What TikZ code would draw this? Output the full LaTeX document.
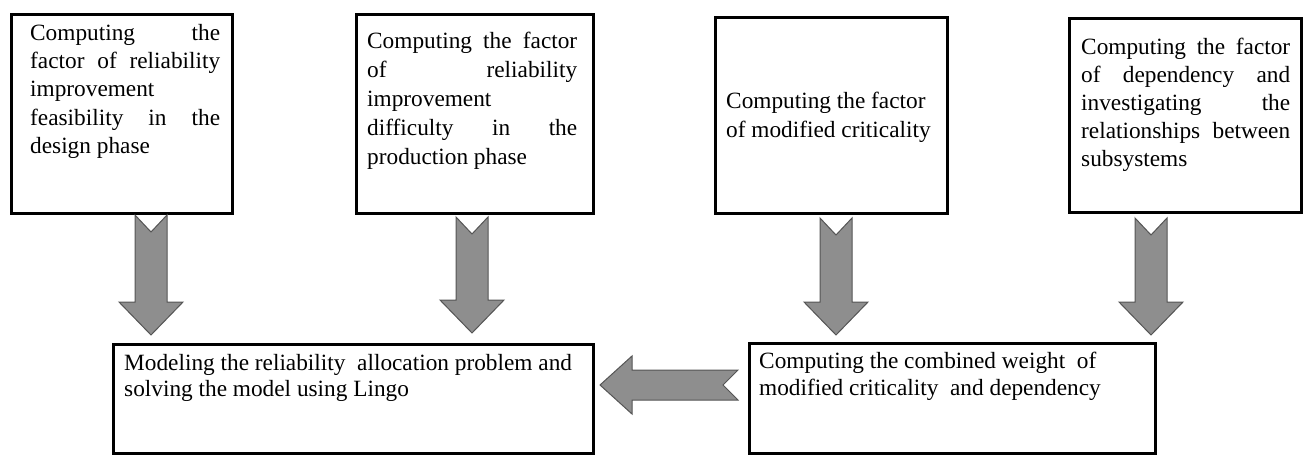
\documentclass[tikz,border=0pt]{standalone}
\usepackage{fontspec}
\setmainfont{Liberation Serif}
\usetikzlibrary{calc}
\tolerance=10000
\hyphenpenalty=10000
\definecolor{arrowfill}{HTML}{8E8E8E}
\definecolor{arrowedge}{HTML}{555555}
\newcommand\vblock[2]{%
  \path[blockarrow] let \p1=(#1), \p2=(#2) in
    (\x1-16pt,\y1) -- (\x1,\y1-17pt) -- (\x1+16pt,\y1) -- (\x1+16pt,\y2+33pt)
    -- (\x1+32pt,\y2+33pt) -- (\x1,\y2) -- (\x1-32pt,\y2+33pt) -- (\x1-16pt,\y2+33pt) -- cycle;}
\newcommand\hblock[2]{%
  \path[blockarrow] let \p1=(#1), \p2=(#2) in
    (\x1,\y1+15pt) -- (\x2+32pt,\y1+15pt) -- (\x2+32pt,\y1+29pt) -- (\x2,\y1)
    -- (\x2+32pt,\y1-29pt) -- (\x2+32pt,\y1-15pt) -- (\x1,\y1-15pt) -- (\x1-15pt,\y1) -- cycle;}
\tikzset{
  box/.style={draw=black, line width=3.3pt, anchor=north west, inner sep=0pt},
  txt/.style={inner sep=0pt, anchor=north west, align=justify},
  blockarrow/.style={fill=arrowfill, draw=arrowedge, line width=1pt, line join=miter},
}
\begin{document}
\begin{tikzpicture}[x=1pt, y=-1pt]
\useasboundingbox (0,0) rectangle (1306,456);
% boxes
\node[box, minimum width=221pt, minimum height=199pt] (b1) at (10,13) {};
\node[box, minimum width=237pt, minimum height=199pt] (b2) at (355,13) {};
\node[box, minimum width=232pt, minimum height=196pt] (b3) at (714,16) {};
\node[box, minimum width=232pt, minimum height=194pt] (b4) at (1068,17) {};
\node[box, minimum width=480pt, minimum height=109pt] (m1) at (112,343) {};
\node[box, minimum width=406pt, minimum height=110pt] (m2) at (748,342) {};
% texts
\node[txt, text width=190pt, font=\fontsize{23.3}{28.3}\selectfont] (t1) at (30,20.2)
  {\strut Computing the\linebreak factor of reliability\linebreak improvement\linebreak feasibility in the\linebreak design phase};
\node[txt, text width=210pt, font=\fontsize{23.3}{29}\selectfont] (t2) at (367,28)
  {\strut Computing the factor\linebreak of reliability\linebreak improvement\linebreak difficulty in the\linebreak production phase};
\node[txt, align=left, font=\fontsize{23.3}{29}\selectfont] (t3) at (726,87.7)
  {\strut Computing the factor\\of modified criticality};
\node[txt, text width=209pt, font=\fontsize{23.3}{28}\selectfont] (t4) at (1081,34.4)
  {\strut Computing the factor\linebreak of dependency and\linebreak investigating the\linebreak relationships between\linebreak subsystems};
\node[txt, align=left, font=\fontsize{23.3}{26}\selectfont] (t5) at (124,351.8)
  {\strut Modeling the reliability\ \ allocation problem and\\solving the model using Lingo};
\node[txt, align=left, font=\fontsize{23.3}{27}\selectfont] (t6) at (759,349.1)
  {\strut Computing the combined weight\ \ of\\modified criticality\ \ and dependency};
% arrow end points
\coordinate (a1s) at (151,215); \coordinate (a1t) at (151,335);
\coordinate (a2s) at (472,217); \coordinate (a2t) at (472,333);
\coordinate (a3s) at (836,218); \coordinate (a3t) at (836,335);
\coordinate (a4s) at (1151,218); \coordinate (a4t) at (1151,335);
\coordinate (h1) at (738,385); \coordinate (h2) at (600,385);
\vblock{a1s}{a1t}
\vblock{a2s}{a2t}
\vblock{a3s}{a3t}
\vblock{a4s}{a4t}
\hblock{h1}{h2}
\end{tikzpicture}
\end{document}
